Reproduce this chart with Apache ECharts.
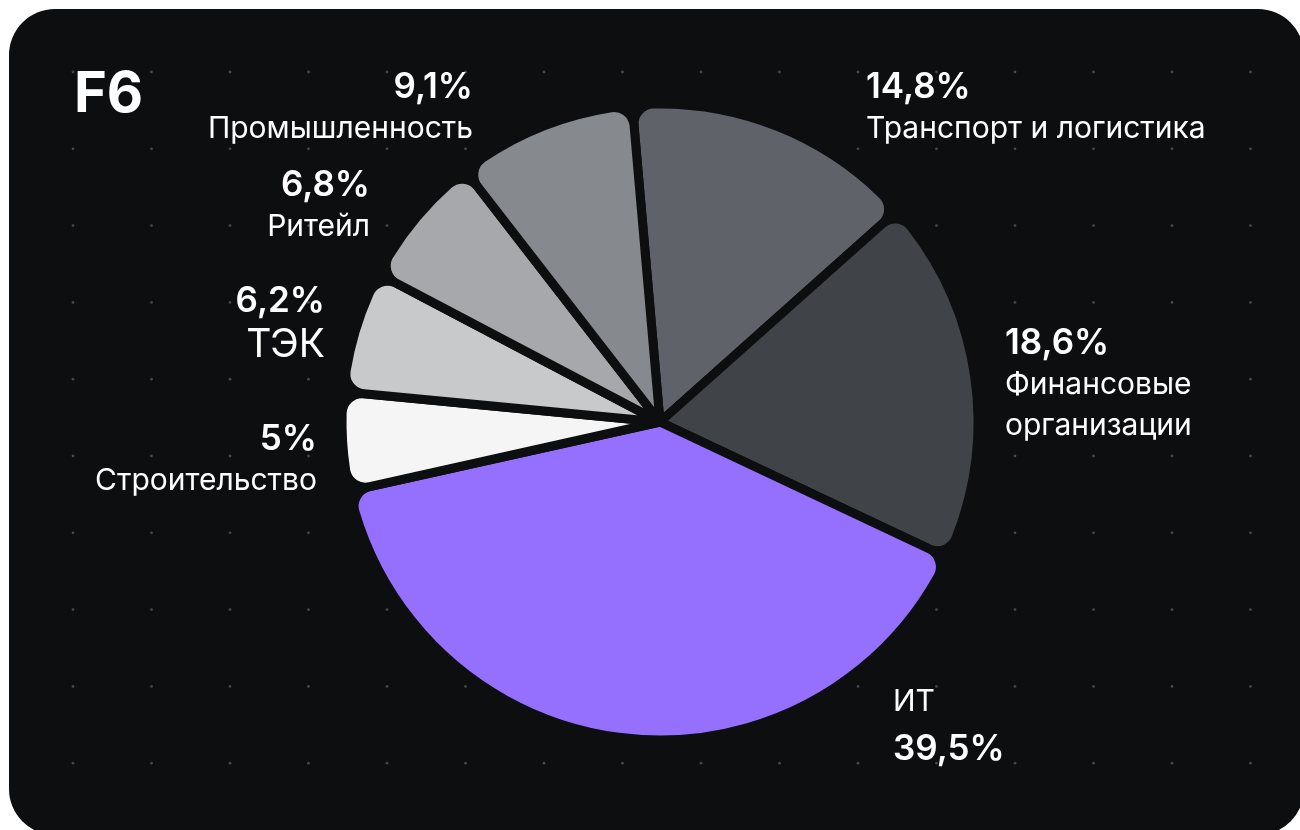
<!DOCTYPE html>
<html>
<head>
<meta charset="utf-8">
<script src="https://cdn.jsdelivr.net/npm/echarts@6/dist/echarts.min.js"></script>
<style>
html,body{margin:0;padding:0;background:#ffffff;}
#chart{width:1300px;height:830px;}
</style>
</head>
<body>
<div id="chart"></div>
<script>
// ---- data ----
const categories = ['Транспорт и логистика', 'Финансовые\nорганизации', 'ИТ', 'Строительство', 'ТЭК', 'Ритейл', 'Промышленность'];
const shares = [14.8, 18.6, 39.5, 5, 6.2, 6.8, 9.1];
const sliceColors = ['#5f6369', '#404347', '#9570ff', '#f5f5f5', '#c7c9cb', '#a6a8ab', '#86898d'];
const brandText = 'F6';

// ---- label placement (layout, not data) ----
const labelAnchors = [
  { x: 866, y: 66, align: 'left' },
  { x: 1005, y: 322, align: 'left' },
  { x: 893, y: 681, align: 'left' },
  { x: 317, y: 418, align: 'right' },
  { x: 325, y: 280, align: 'right' },
  { x: 370, y: 164, align: 'right' },
  { x: 473, y: 66, align: 'right' }
];

const BG = '#0d0e10';
const chart = echarts.init(document.getElementById('chart'), null, { renderer: 'canvas' });

// decorative dot grid
const dots = [];
for (let i = 0; i < 16; i++) {
  for (let j = 0; j < 10; j++) {
    dots.push({
      type: 'circle',
      silent: true,
      z: -9,
      shape: { cx: 73 + 78.5 * i, cy: 72 + 76.8 * j, r: 1.4 },
      style: { fill: '#46474b' }
    });
  }
}

function fmtPct(v) { return String(v).replace('.', ',') + '%'; }

const option = {
  backgroundColor: '#ffffff',
  title: {
    text: brandText,
    left: 69,
    top: 62,
    textStyle: { color: '#ffffff', fontSize: 56, fontWeight: 'bold', fontFamily: 'Inter' }
  },
  graphic: [
    {
      type: 'rect',
      silent: true,
      z: -10,
      shape: { x: 9, y: 9, width: 1295, height: 826, r: 46 },
      style: { fill: BG }
    }
  ].concat(dots),
  series: [{
    type: 'pie',
    center: [660, 422],
    radius: ['0%', 318],
    startAngle: 95,
    clockwise: true,
    avoidLabelOverlap: false,
    silent: true,
    itemStyle: {
      borderColor: BG,
      borderWidth: 9,
      borderRadius: [0, 20]
    },
    label: {
      show: true,
      position: 'outside',
      color: '#ffffff',
      fontFamily: 'Inter',
      formatter: function (p) {
        const nameKey = p.name === 'ТЭК' ? 'nb' : 'n';
        const nameLines = p.name.split('\n').map(s => '{' + nameKey + '|' + s + '}');
        if (p.name === 'ИТ') return nameLines.join('\n') + '\n{v2|' + fmtPct(p.value) + '}';
        return ['{v|' + fmtPct(p.value) + '}'].concat(nameLines).join('\n');
      },
      rich: {
        v: { fontSize: 35, fontWeight: 600, lineHeight: 42, color: '#ffffff', fontFamily: 'Inter' },
        v2: { fontSize: 35, fontWeight: 600, lineHeight: 54, color: '#ffffff', fontFamily: 'Inter' },
        n: { fontSize: 30, fontWeight: 400, lineHeight: 41, color: '#ffffff', fontFamily: 'Inter' },
        nb: { fontSize: 39, fontWeight: 400, lineHeight: 46, color: '#ffffff', fontFamily: 'Inter' }
      }
    },
    labelLine: { show: false },
    labelLayout: function (params) {
      const a = labelAnchors[params.dataIndex];
      return { x: a.x, y: a.y, align: a.align, verticalAlign: 'top' };
    },
    data: categories.map((c, i) => ({
      name: c,
      value: shares[i],
      itemStyle: { color: sliceColors[i] }
    }))
  }]
};
chart.setOption(option);
</script>
</body>
</html>
